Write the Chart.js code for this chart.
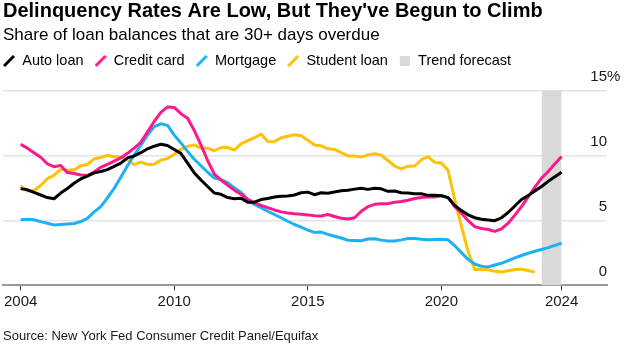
<!DOCTYPE html>
<html>
<head>
<meta charset="utf-8">
<script src="https://cdn.jsdelivr.net/npm/chart.js@4.4.1/dist/chart.umd.min.js"></script>
<style>
  body { margin: 0; background: #fff; }
  canvas { display: block; }
</style>
</head>
<body>
<canvas id="mycanvas" width="624" height="346"></canvas>
<script>
// quarters 2004 Q1 .. 2024 Q2
var quarters = [];
for (var yr = 2004; yr <= 2024; yr++) {
  for (var q = 1; q <= 4; q++) {
    if (yr === 2024 && q > 2) break;
    quarters.push(yr + '-Q' + q);
  }
}

// share of balances 30+ days delinquent, %
var autoLoan = [
  7.44, 7.35, 7.15, 6.95, 6.75, 6.66, 7.1, 7.45, 7.85, 8.18,
  8.4, 8.65, 8.75, 8.9, 9.15, 9.4, 9.8, 9.95, 10.2, 10.5,
  10.7, 10.85, 10.75, 10.45, 10.15, 9.4, 8.65, 8.1, 7.6, 7.1,
  7.0, 6.75, 6.66, 6.7, 6.4, 6.4, 6.6, 6.68, 6.8, 6.86,
  6.87, 6.95, 7.12, 7.17, 6.97, 7.12, 7.08, 7.18, 7.28, 7.31,
  7.4, 7.47, 7.38, 7.46, 7.42, 7.23, 7.25, 7.12, 7.1, 7.05,
  7.05, 6.92, 6.92, 6.9, 6.75, 6.15, 5.75, 5.42, 5.2, 5.08,
  5.03, 4.97, 5.2, 5.6, 6.1, 6.6, 6.9, 7.25, 7.6, 8.0,
  8.35, 8.7
];
var creditCard = [
  10.85, 10.55, 10.2, 9.85, 9.35, 9.12, 9.22, 8.67, 8.6, 8.48,
  8.45, 8.72, 9.08, 9.3, 9.55, 9.8, 10.15, 10.55, 11.0, 11.8,
  12.6, 13.3, 13.72, 13.68, 13.2, 12.85, 11.9, 10.8, 9.6, 8.55,
  8.1, 7.7, 7.32, 7.0, 6.62, 6.36, 6.15, 5.98, 5.8, 5.65,
  5.56, 5.5, 5.46, 5.42, 5.35, 5.33, 5.45, 5.3, 5.16, 5.1,
  5.2, 5.7, 6.05, 6.23, 6.27, 6.28, 6.4, 6.45, 6.55, 6.68,
  6.76, 6.82, 6.8, 6.9, 6.75, 6.05, 5.55, 4.98, 4.52, 4.37,
  4.3, 4.15, 4.35, 4.78, 5.4, 6.05, 6.8, 7.55, 8.25, 8.75,
  9.35, 9.9
];
var mortgage = [
  5.05, 5.08, 5.05, 4.9, 4.78, 4.65, 4.68, 4.72, 4.76, 4.9,
  5.15, 5.65, 6.05, 6.72, 7.45, 8.32, 9.2, 10.0, 10.77, 11.55,
  12.2, 12.42, 12.3, 11.55, 10.95, 10.3, 9.7, 9.2, 8.7, 8.25,
  8.13, 7.9, 7.5, 7.15, 6.6, 6.22, 5.97, 5.7, 5.45, 5.2,
  4.93, 4.68, 4.48, 4.25, 4.07, 4.1, 3.92, 3.78, 3.64, 3.47,
  3.46, 3.43, 3.57, 3.58, 3.48, 3.42, 3.42, 3.5, 3.6, 3.6,
  3.54, 3.5, 3.52, 3.55, 3.5, 3.05, 2.52, 2.0, 1.64, 1.47,
  1.42, 1.57, 1.7, 1.9, 2.12, 2.3, 2.47, 2.62, 2.76, 2.9,
  3.08, 3.24
];
var studentLoan = [
  7.62, 7.25, 7.3, 7.68, 8.2, 8.45, 8.93, 8.86, 8.88, 9.2,
  9.3, 9.72, 9.83, 10.0, 9.88, 9.88, 9.68, 9.28, 9.48, 9.3,
  9.32, 9.63, 9.75, 10.08, 10.45, 10.68, 10.8, 10.55, 10.55, 10.35,
  10.6, 10.6, 10.4, 10.88, 11.12, 11.35, 11.63, 11.06, 11.05, 11.35,
  11.47, 11.58, 11.5, 11.15, 10.8, 10.73, 10.5, 10.45, 10.2, 9.95,
  9.95, 9.86, 10.03, 10.12, 10.0, 9.6, 9.16, 8.95, 9.16, 9.17,
  9.66, 9.89, 9.45, 9.4, 8.85, 6.6, 4.55, 2.6, 1.22, 1.22,
  1.2, 1.08, 1.03, 1.12, 1.23, 1.25, 1.15, 1.02
];

var forecastPeriod = ['2023-Q3', '2024-Q2'];
var xTicks = ['2004-Q1', '2009-Q4', '2014-Q4', '2019-Q4', '2024-Q2'];
var xTickLabels = ['2004', '2010', '2015', '2020', '2024'];
var yTicks = [0, 5, 10, 15];

var colors = {
  auto: '#000000',
  card: '#fb1a8c',
  mortgage: '#1ab2f5',
  student: '#ffc107',
  forecast: '#d9d9d9'
};

Chart.defaults.font.family = '"Liberation Sans", Arial, sans-serif';
Chart.defaults.color = '#000';

// quarter-end as a decimal year
function quarterToX(s) {
  var p = s.split('-Q');
  return +p[0] + p[1] / 4;
}

function slashIcon(color) {
  var c = document.createElement('canvas');
  c.width = 12; c.height = 12;
  var g = c.getContext('2d');
  g.strokeStyle = color;
  g.lineWidth = 3;
  g.beginPath();
  g.moveTo(1, 11);
  g.lineTo(11, 1);
  g.stroke();
  return c;
}

function squareIcon(color) {
  var c = document.createElement('canvas');
  c.width = 12; c.height = 12;
  var g = c.getContext('2d');
  g.fillStyle = color;
  g.fillRect(1, 1, 10, 10);
  return c;
}

function lineSet(label, values, color) {
  return {
    label: label,
    data: values.map(function(v, i) { return { x: quarterToX(quarters[i]), y: v }; }),
    borderColor: color,
    backgroundColor: color,
    borderWidth: 3,
    borderJoinStyle: 'round',
    pointRadius: 0,
    pointHoverRadius: 0,
    pointStyle: slashIcon(color),
    tension: 0,
    fill: false
  };
}

var yMax = Math.max.apply(null, yTicks);

var chartdata = {
  datasets: [
    lineSet('Auto loan', autoLoan, colors.auto),
    lineSet('Credit card', creditCard, colors.card),
    lineSet('Mortgage', mortgage, colors.mortgage),
    lineSet('Student loan', studentLoan, colors.student),
    {
      label: 'Trend forecast',
      data: forecastPeriod.map(function(p) { return { x: quarterToX(p), y: yMax }; }),
      backgroundColor: colors.forecast,
      borderColor: colors.forecast,
      borderWidth: 0,
      pointRadius: 0,
      pointHoverRadius: 0,
      pointStyle: squareIcon(colors.forecast),
      fill: 'origin'
    }
  ]
};

var legendPad = 11;

// legend spacing and the "%" after the top axis label
var tweaks = {
  id: 'tweaks',
  beforeInit: function(chart) {
    var fit = chart.legend.fit;
    chart.legend.fit = function() {
      fit.call(this);
      this.height += 12;
    };
  },
  afterLayout: function(chart) {
    chart.legend.left -= legendPad;
    chart.legend.right -= legendPad;
  },
  afterDraw: function(chart) {
    var y = chart.scales.y;
    var ctx = chart.ctx;
    ctx.save();
    ctx.font = '15px "Liberation Sans", Arial, sans-serif';
    ctx.fillStyle = '#1a1a1a';
    ctx.textAlign = 'left';
    ctx.textBaseline = 'middle';
    ctx.fillText('%', chart.chartArea.right, y.getPixelForValue(yMax) + y.options.ticks.labelOffset);
    ctx.restore();
  }
};

var ctx = document.getElementById('mycanvas');

var lineGraph = new Chart(ctx, {
  type: 'line',
  data: chartdata,
  plugins: [tweaks],
  options: {
    responsive: false,
    animation: false,
    events: [],
    layout: { padding: { left: 3, right: 17, top: 0, bottom: 2 } },
    plugins: {
      title: {
        display: true,
        text: "Delinquency Rates Are Low, But They've Begun to Climb",
        align: 'start',
        color: '#000',
        font: { size: 20, weight: 'bold', lineHeight: 1.1 },
        padding: { top: 0, bottom: 0 }
      },
      subtitle: {
        display: true,
        text: 'Share of loan balances that are 30+ days overdue',
        align: 'start',
        color: '#000',
        font: { size: 17, weight: 'normal', lineHeight: 1.0 },
        padding: { top: 5, bottom: -1.25 }
      },
      legend: {
        position: 'top',
        align: 'start',
        labels: {
          usePointStyle: true,
          boxWidth: 12,
          padding: legendPad,
          color: '#000',
          font: { size: 14.5 }
        }
      },
      tooltip: { enabled: false }
    },
    scales: {
      x: {
        type: 'linear',
        min: 2003.59,
        max: 2026.2,
        afterBuildTicks: function(scale) {
          scale.ticks = xTicks.map(function(q) { return { value: quarterToX(q) }; });
        },
        ticks: {
          autoSkip: false,
          maxRotation: 0,
          padding: 2,
          color: '#1a1a1a',
          font: { size: 15 },
          callback: function(value, index) { return xTickLabels[index]; }
        },
        grid: {
          display: true,
          drawOnChartArea: false,
          drawTicks: true,
          tickLength: 5,
          tickColor: '#333',
          tickWidth: 1
        },
        border: { display: true, color: '#9a9a9a', width: 2 },
        title: {
          display: true,
          text: 'Source: New York Fed Consumer Credit Panel/Equifax',
          align: 'start',
          color: '#1a1a1a',
          font: { size: 13 },
          padding: { top: 16, bottom: 0 }
        }
      },
      y: {
        position: 'right',
        min: 0,
        max: yMax,
        afterBuildTicks: function(scale) {
          scale.ticks = yTicks.map(function(v) { return { value: v }; });
        },
        ticks: {
          mirror: true,
          padding: 0,
          labelOffset: -13.5,
          color: '#1a1a1a',
          font: { size: 15 },
          callback: function(value) { return String(value); }
        },
        grid: {
          drawTicks: false,
          lineWidth: 1.5,
          color: function(c) {
            return c.tick && c.tick.value === 0 ? 'rgba(0,0,0,0)' : '#e3e3e3';
          }
        },
        border: { display: false }
      }
    }
  }
});
</script>
</body>
</html>
